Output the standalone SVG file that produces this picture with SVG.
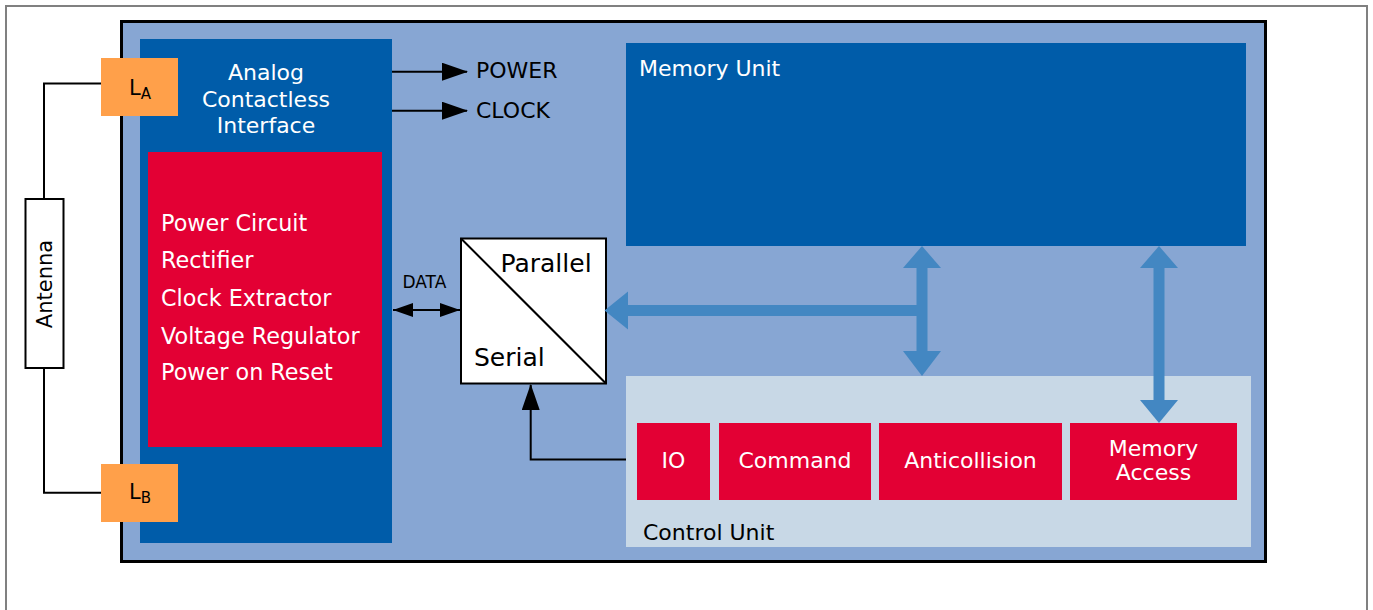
<svg xmlns="http://www.w3.org/2000/svg" width="1373" height="610" viewBox="0 0 1373 610">
<style>
text{font-family:"DejaVu Sans",Verdana,sans-serif}
.w{fill:#fff}
.k{fill:#000}
.dark{fill:#005CA9}
.red{fill:#E30034}
.org{fill:#FFA04A}
.ln{stroke:#000;stroke-width:2;fill:none}
.bus{fill:#4387C2}
</style>
<defs>
<marker id="ah" markerWidth="26" markerHeight="18" refX="25" refY="9" orient="auto" markerUnits="userSpaceOnUse">
<path d="M0,0 L26,9 L0,18 Z" fill="#000"/>
</marker>
<marker id="ahs" markerWidth="20" markerHeight="14" refX="20" refY="7" orient="auto-start-reverse" markerUnits="userSpaceOnUse">
<path d="M0,0 L20,7 L0,14 Z" fill="#000"/>
</marker>
</defs>
<rect x="6" y="6" width="1361" height="620" fill="#fff" stroke="#808080" stroke-width="2"/>
<g id="chip">
<rect x="121.5" y="21.5" width="1144" height="540" fill="#87A6D3" stroke="#000" stroke-width="3"/>
</g>
<g id="analog">
<rect class="dark" x="140" y="39" width="252" height="504"/>
<text class="w" x="266" y="80" font-size="22" text-anchor="middle">Analog</text>
<text class="w" x="266" y="106.5" font-size="22" text-anchor="middle">Contactless</text>
<text class="w" x="266" y="132.5" font-size="22" text-anchor="middle">Interface</text>
</g>
<g id="power-circuit">
<rect class="red" x="148" y="152" width="234" height="295"/>
<text class="w" x="161" y="230.5" font-size="22.3">Power Circuit</text>
<text class="w" x="161" y="267.5" font-size="22.3">Rectifier</text>
<text class="w" x="161" y="306" font-size="22.3">Clock Extractor</text>
<text class="w" x="161" y="343.5" font-size="22.3">Voltage Regulator</text>
<text class="w" x="161" y="380" font-size="22.3">Power on Reset</text>
</g>
<g id="antenna">
<rect x="25.5" y="199" width="38" height="169" fill="#fff" stroke="#000" stroke-width="2"/>
<text class="k" transform="translate(52,284) rotate(-90)" font-size="21" text-anchor="middle">Antenna</text>
</g>
<g id="LA">
<rect class="org" x="101" y="58" width="77" height="58"/>
<text class="k" x="129" y="95" font-size="21">L<tspan font-size="15" dy="3.5">A</tspan></text>
</g>
<g id="LB">
<rect class="org" x="101" y="464" width="77" height="58"/>
<text class="k" x="129" y="499.3" font-size="21">L<tspan font-size="15" dy="3.5">B</tspan></text>
</g>
<g id="labels">
<text class="k" x="476" y="78.3" font-size="22">POWER</text>
<text class="k" x="476" y="118.3" font-size="22">CLOCK</text>
<text class="k" x="402.5" y="287.7" font-size="17">DATA</text>
</g>
<g id="converter">
<rect x="461" y="238.5" width="145" height="145" fill="#fff" stroke="#000" stroke-width="2"/>
<line x1="461" y1="238.5" x2="606" y2="383.5" stroke="#000" stroke-width="2"/>
<text class="k" x="500.5" y="271.7" font-size="25">Parallel</text>
<text class="k" x="474" y="365.7" font-size="25">Serial</text>
</g>
<g id="memory-unit">
<rect class="dark" x="626" y="43" width="620" height="203"/>
<text class="w" x="639" y="76" font-size="22">Memory Unit</text>
</g>
<g id="control-unit">
<rect x="626" y="376" width="625" height="171" fill="#C8D8E6"/>
<text class="k" x="643" y="540" font-size="22">Control Unit</text>
</g>
<g id="io">
<rect class="red" x="637" y="423" width="73" height="77"/>
<text class="w" x="673.5" y="468" font-size="22" text-anchor="middle">IO</text>
</g>
<g id="command">
<rect class="red" x="719" y="423" width="152" height="77"/>
<text class="w" x="795" y="468" font-size="22" text-anchor="middle">Command</text>
</g>
<g id="anticollision">
<rect class="red" x="879" y="423" width="183" height="77"/>
<text class="w" x="970.5" y="468" font-size="22" text-anchor="middle">Anticollision</text>
</g>
<g id="memory-access">
<rect class="red" x="1070" y="423" width="167" height="77"/>
<text class="w" x="1153.5" y="456" font-size="22" text-anchor="middle">Memory</text>
<text class="w" x="1153.5" y="480" font-size="22" text-anchor="middle">Access</text>
</g>
<g id="connectors">
<polyline class="ln" points="101,83.5 44,83.5 44,199"/>
<polyline class="ln" points="44,368 44,492.7 101,492.7"/>
<line class="ln" x1="392" y1="71.7" x2="467" y2="71.7" marker-end="url(#ah)"/>
<line class="ln" x1="392" y1="110.7" x2="467" y2="110.7" marker-end="url(#ah)"/>
<line class="ln" x1="393" y1="310" x2="460" y2="310" marker-start="url(#ahs)" marker-end="url(#ahs)"/>
<polyline class="ln" points="626,459.5 530.7,459.5 530.7,385" marker-end="url(#ah)"/>
<g id="bus">
<rect class="bus" x="916.5" y="266" width="11" height="87"/>
<path class="bus" d="M922,246 L941,268 L903,268 Z"/>
<path class="bus" d="M922,376 L941,351 L903,351 Z"/>
<rect class="bus" x="626" y="305" width="296" height="11"/>
<path class="bus" d="M604.5,310.5 L628,291.5 L628,329.5 Z"/>
<rect class="bus" x="1153.5" y="266" width="11" height="135"/>
<path class="bus" d="M1159,246 L1178,268 L1140,268 Z"/>
<path class="bus" d="M1159,423 L1178,400 L1140,400 Z"/>
</g>
</g>
</svg>
